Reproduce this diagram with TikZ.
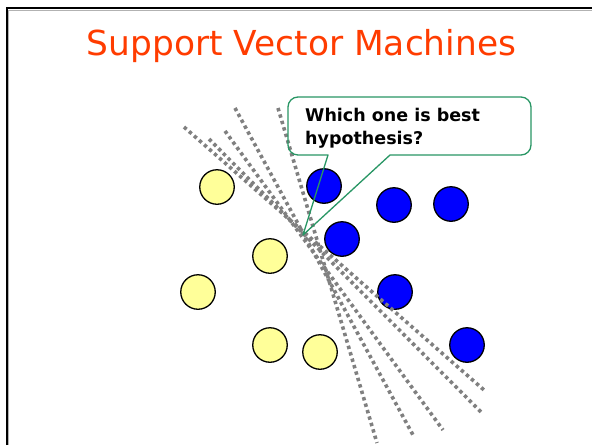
\documentclass[tikz,border=0pt]{standalone}
\usepackage{fontspec}
\setmainfont{DejaVu Sans}
\definecolor{titlered}{RGB}{255,60,0}
\definecolor{posyellow}{RGB}{255,255,153}
\definecolor{negblue}{RGB}{0,0,255}
\definecolor{calloutgreen}{RGB}{40,150,100}
\definecolor{dotgray}{RGB}{128,128,128}
\tikzset{
  posdot/.style={circle, draw=black, line width=1.3pt, fill=posyellow, minimum size=34.5pt, inner sep=0pt},
  negdot/.style={circle, draw=black, line width=1.3pt, fill=negblue, minimum size=34.5pt, inner sep=0pt},
  hypo/.style={draw=dotgray, line width=3.6pt, dash pattern=on 3.4pt off 3.3pt},
  calloutline/.style={draw=calloutgreen, line width=1.3pt, line join=round},
  frameline/.style={draw=black, line width=2pt},
}
\begin{document}
\begin{tikzpicture}[x=1pt, y=1pt]
  \useasboundingbox (0,0) rectangle (592,-445);
  \fill[white] (0,0) rectangle (592,-445);

  % slide frame
  \draw[draw=gray!60, line width=1pt] (8.5,-445) -- (8.5,-10.3) -- (592,-10.3);
  \draw[frameline] (6.5,-445) -- (6.5,-8.3) -- (592,-8.3);

  % title
  \node[anchor=base, text=titlered, font=\fontsize{34.4}{40}\selectfont, inner sep=0pt]
    (title) at (301.5,-55.5) {Support Vector Machines};

  % positive examples
  \node[posdot] (y1) at (217,-187) {};
  \node[posdot] (y2) at (270,-256) {};
  \node[posdot] (y3) at (198,-292) {};
  \node[posdot] (y4) at (270,-345) {};
  \node[posdot] (y5) at (320,-352) {};

  % negative examples
  \node[negdot] (b1) at (324,-186) {};
  \node[negdot] (b2) at (394,-205) {};
  \node[negdot] (b3) at (451,-204) {};
  \node[negdot] (b4) at (342,-239) {};
  \node[negdot] (b5) at (395,-292) {};
  \node[negdot] (b6) at (467,-345) {};

  % candidate separating lines
  \coordinate (s1) at (184,-127);  \coordinate (e1) at (484,-390);
  \coordinate (s2) at (209,-139);  \coordinate (e2) at (482,-413);
  \coordinate (s3) at (225,-131);  \coordinate (e3) at (443,-430);
  \coordinate (s4) at (235,-108);  \coordinate (e4) at (413,-435);
  \coordinate (s5) at (278,-108);  \coordinate (e5) at (377,-443);
  \draw[hypo] (s1) -- (e1);
  \draw[hypo] (s2) -- (e2);
  \draw[hypo] (s3) -- (e3);
  \draw[hypo] (s4) -- (e4);
  \draw[hypo] (s5) -- (e5);

  % speech bubble with pointer
  \coordinate (tip) at (303,-235);
  \draw[calloutline] (390,-155) -- (521,-155) arc[start angle=-90, end angle=0, radius=10pt]
    -- (531,-107) arc[start angle=0, end angle=90, radius=10pt]
    -- (298,-97) arc[start angle=90, end angle=180, radius=10pt]
    -- (288,-145) arc[start angle=180, end angle=270, radius=10pt]
    -- (328,-155) -- (tip) -- cycle;
  \node[anchor=north west, align=left, inner sep=0pt,
        font=\fontsize{17.5}{23}\selectfont\bfseries]
    (question) at (305,-108) {Which one is best\\hypothesis?};
\end{tikzpicture}
\end{document}
